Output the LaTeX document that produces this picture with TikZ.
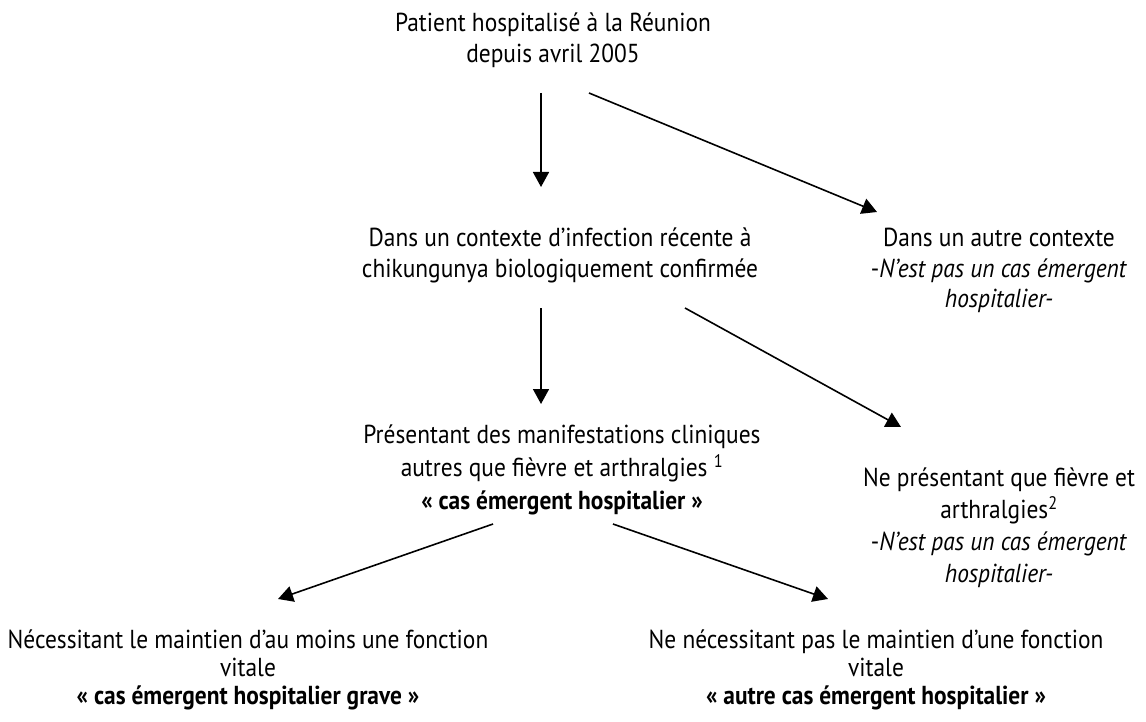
\documentclass[tikz,border=0pt]{standalone}
\usepackage{fontspec}
\setmainfont[FakeStretch=0.9]{PT Sans}
\usetikzlibrary{arrows.meta}
\begin{document}
\begin{tikzpicture}[x=1pt,y=-1pt,
  txt/.style={anchor=north,inner sep=0pt,align=center,font=\fontsize{26}{32}\selectfont},
  arr/.style={line width=1.6pt,-{Triangle[length=15pt,width=16pt]}}]
\useasboundingbox (0,0) rectangle (1146,722);
\node[txt,font=\fontsize{26}{31}\selectfont] (top) at (553,13) {Patient hospitalisé à la Réunion\\depuis avril 2005};
\node[txt,font=\fontsize{26}{31}\selectfont] (mid) at (560,228) {Dans un contexte d’infection récente à\\chikungunya biologiquement confirmée};
\node[txt,font=\fontsize{26}{30.5}\selectfont] (r1) at (999,228) {Dans un autre contexte\\-\textit{N’est pas un cas émergent}\\\textit{hospitalier-}};
\node[txt,font=\fontsize{26}{33}\selectfont] (n3) at (562,425) {Présentant des manifestations cliniques\\autres que fièvre et arthralgies \textsuperscript{1}\\\textbf{« cas émergent hospitalier »}};
\node[txt,font=\fontsize{26}{32}\selectfont] (r2) at (999,468) {Ne présentant que fièvre et\\arthralgies\textsuperscript{2}\\-\textit{N’est pas un cas émergent}\\\textit{hospitalier-}};
\node[txt,font=\fontsize{26}{28}\selectfont] (bl) at (248,630) {Nécessitant le maintien d’au moins une fonction\\vitale\\\textbf{« cas émergent hospitalier grave »}};
\node[txt,font=\fontsize{26}{28}\selectfont] (br) at (876,630) {Ne nécessitant pas le maintien d’une fonction\\vitale\\\textbf{« autre cas émergent hospitalier »}};
\coordinate (a1s) at (541,93);  \coordinate (a1e) at (541,187);
\coordinate (a2s) at (589,93);  \coordinate (a2e) at (877,212);
\coordinate (a3s) at (541,308); \coordinate (a3e) at (541,404);
\coordinate (a4s) at (685,308); \coordinate (a4e) at (901,427);
\coordinate (a5s) at (493,524); \coordinate (a5e) at (278,599);
\coordinate (a6s) at (613,524); \coordinate (a6e) at (828,599);
\draw[arr] (a1s) -- (a1e);
\draw[arr] (a2s) -- (a2e);
\draw[arr] (a3s) -- (a3e);
\draw[arr] (a4s) -- (a4e);
\draw[arr] (a5s) -- (a5e);
\draw[arr] (a6s) -- (a6e);
\end{tikzpicture}
\end{document}
